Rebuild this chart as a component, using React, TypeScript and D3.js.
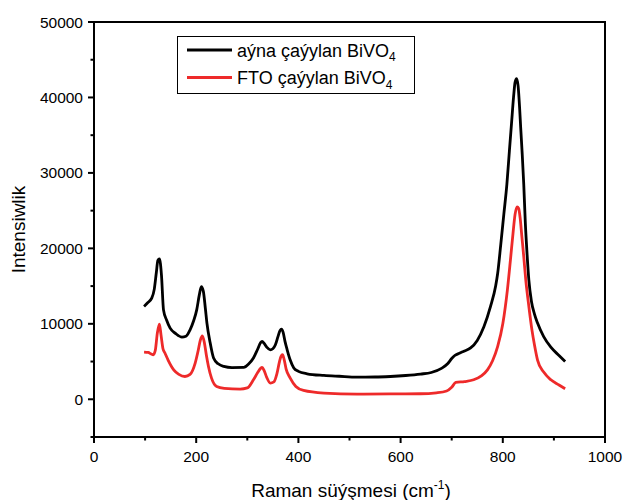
import React from "react";
import * as d3 from "d3";

const blackX = [98, 105, 113, 118, 122, 125, 128, 132, 136, 142, 149, 160, 172, 180, 188, 195, 201, 206, 210, 214, 218, 221, 227, 234, 243, 254, 270, 293, 303, 312, 320, 326, 329, 333, 338, 345, 350, 355, 360, 364, 367, 370, 374, 378, 384, 391, 400, 417, 450, 480, 515, 550, 580, 610, 639, 660, 680, 692, 700, 706, 715, 725, 737, 750, 763, 776, 786, 790, 796, 802, 808, 813, 817, 821, 824, 827, 830, 833, 835, 838, 841, 844, 847, 851, 856, 862, 868, 880, 894, 910, 922];
const blackY = [12300, 12800, 13400, 14600, 16800, 18400, 18600, 16500, 11850, 10500, 9430, 8700, 8240, 8350, 9200, 10400, 11850, 13800, 14940, 14300, 12000, 10100, 7600, 5460, 4700, 4350, 4200, 4220, 4700, 5460, 6600, 7500, 7660, 7400, 6900, 6560, 6700, 7220, 8300, 9100, 9300, 8900, 7600, 6560, 5200, 4150, 3700, 3380, 3160, 3050, 2940, 2950, 3020, 3150, 3340, 3550, 4100, 4700, 5400, 5800, 6100, 6400, 6800, 7800, 9600, 12300, 15000, 16700, 20500, 24500, 28500, 33000, 36500, 40000, 42000, 42500, 41500, 38500, 36000, 32500, 28500, 23500, 19800, 15800, 13000, 11300, 10100, 8300, 6900, 5800, 5000];

const redX = [98, 106, 112, 116, 120, 124, 128, 131, 135, 139, 145, 156, 166, 178, 188, 198, 204, 208, 212, 216, 220, 224, 230, 240, 255, 286, 300, 312, 320, 326, 329, 333, 338, 345, 352, 358, 363, 366, 369, 372, 376, 384, 395, 410, 450, 515, 580, 639, 670, 690, 700, 708, 725, 743, 758, 770, 780, 790, 800, 809, 815, 820, 824, 828, 831, 834, 837, 841, 845, 851, 857, 862, 868, 880, 894, 910, 922];
const redY = [6250, 6200, 6000, 5900, 6500, 8800, 9960, 8600, 6700, 6100, 5200, 3900, 3300, 3020, 3300, 4800, 6500, 7800, 8400, 7500, 5800, 4350, 2800, 1700, 1450, 1350, 1500, 2580, 3500, 4100, 4220, 3800, 2900, 2150, 2300, 3400, 5000, 5700, 5900, 5300, 4000, 2810, 1700, 1170, 820, 690, 720, 730, 850, 1100, 1600, 2230, 2350, 2580, 3100, 3900, 5100, 7000, 10000, 14500, 18500, 22000, 24500, 25500, 25300, 24000, 21800, 18900, 15800, 12300, 9200, 7200, 5200, 3600, 2580, 1900, 1400];

const xTicks = [0, 200, 400, 600, 800, 1000];
const yTicks = [0, 10000, 20000, 30000, 40000, 50000];
const legendLabels = ["aýna çaýylan BiVO", "FTO çaýylan BiVO"];
const colors = ["#000000", "#ee2a2a"];

export default function App() {
  const W = 624, H = 500;
  const left = 94, right = 605, top = 22, bottom = 437;
  const x = d3.scaleLinear().domain([0, 1000]).range([left, right]);
  const y = d3.scaleLinear().domain([-5000, 50000]).range([bottom, top]);
  const line = d3
    .line<[number, number]>()
    .x((d) => x(d[0]))
    .y((d) => y(d[1]))
    .curve(d3.curveMonotoneX);
  const blackPath = line(blackX.map((v, i) => [v, blackY[i]] as [number, number])) || "";
  const redPath = line(redX.map((v, i) => [v, redY[i]] as [number, number])) || "";
  const xMinor = d3.range(100, 1000, 200);
  const yMinor = d3.range(-5000, 50000, 10000);
  const font = "Arial, 'Liberation Sans', sans-serif";

  return (
    <svg
      width={W}
      height={H}
      style={{ position: "absolute", left: 0, top: 0, background: "#fff" }}
      fontFamily={font}
    >
      <rect x={0} y={0} width={W} height={H} fill="#fff" />
      <path d={blackPath} fill="none" stroke={colors[0]} strokeWidth={2.8} strokeLinejoin="round" />
      <path d={redPath} fill="none" stroke={colors[1]} strokeWidth={2.8} strokeLinejoin="round" />
      <rect x={left} y={top} width={right - left} height={bottom - top} fill="none" stroke="#000" strokeWidth={2} />
      {xTicks.map((t) => (
        <g key={"xt" + t}>
          <line x1={x(t)} x2={x(t)} y1={bottom} y2={bottom + 6} stroke="#000" strokeWidth={2} />
          <text x={x(t)} y={bottom + 25} textAnchor="middle" fontSize={15.5}>
            {t}
          </text>
        </g>
      ))}
      {xMinor.map((t) => (
        <line key={"xm" + t} x1={x(t)} x2={x(t)} y1={bottom} y2={bottom + 3.5} stroke="#000" strokeWidth={2} />
      ))}
      {yTicks.map((t) => (
        <g key={"yt" + t}>
          <line x1={left - 6} x2={left} y1={y(t)} y2={y(t)} stroke="#000" strokeWidth={2} />
          <text x={left - 11} y={y(t) + 5.5} textAnchor="end" fontSize={15.5}>
            {t}
          </text>
        </g>
      ))}
      {yMinor.map((t) => (
        <line key={"ym" + t} x1={left - 3.5} x2={left} y1={y(t)} y2={y(t)} stroke="#000" strokeWidth={2} />
      ))}
      <text x={351} y={497} textAnchor="middle" fontSize={19}>
        Raman süýşmesi (cm
        <tspan dy={-8} fontSize={12}>-1</tspan>
        <tspan dy={8}>)</tspan>
      </text>
      <text
        transform={`translate(25, ${(top + bottom) / 2}) rotate(-90)`}
        textAnchor="middle"
        fontSize={19}
      >
        Intensiwlik
      </text>
      <rect x={177.5} y={36.5} width={237} height={57} fill="#fff" stroke="#000" strokeWidth={1} />
      {legendLabels.map((lab, i) => (
        <g key={lab}>
          <line x1={187} x2={232} y1={50 + i * 27.5} y2={50 + i * 27.5} stroke={colors[i]} strokeWidth={2.8} />
          <text x={237} y={56.5 + i * 27.5} fontSize={18}>
            {lab}
            <tspan dy={4.5} fontSize={12}>4</tspan>
          </text>
        </g>
      ))}
    </svg>
  );
}
